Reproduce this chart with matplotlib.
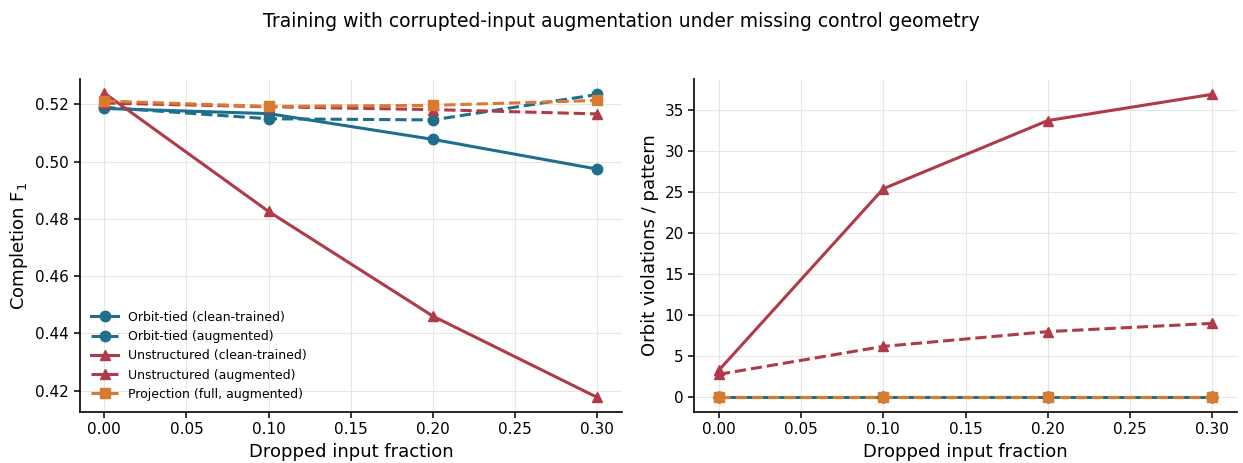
import numpy as np
import matplotlib.pyplot as plt

drop = [0.0, 0.1, 0.2, 0.3]

# completion F1
f1_orbit_clean = [0.5186, 0.5168, 0.5078, 0.4974]
f1_orbit_aug = [0.5190, 0.5150, 0.5146, 0.5235]
f1_unstr_clean = [0.5240, 0.4826, 0.4460, 0.4176]
f1_unstr_aug = [0.5205, 0.5192, 0.5182, 0.5167]
f1_proj_aug = [0.5212, 0.5193, 0.5197, 0.5214]

# orbit violations per pattern
viol_orbit_clean = [0.0, 0.0, 0.0, 0.0]
viol_orbit_aug = [0.0, 0.0, 0.0, 0.0]
viol_unstr_clean = [3.3, 25.4, 33.7, 36.9]
viol_unstr_aug = [2.8, 6.2, 8.0, 9.0]
viol_proj_aug = [0.0, 0.0, 0.0, 0.0]

c_orbit = '#1f6e8c'
c_unstr = '#b03a48'
c_proj = '#d97a2f'

series = [
    ('Orbit-tied (clean-trained)', f1_orbit_clean, viol_orbit_clean, c_orbit, 'o', '-'),
    ('Orbit-tied (augmented)', f1_orbit_aug, viol_orbit_aug, c_orbit, 'o', '--'),
    ('Unstructured (clean-trained)', f1_unstr_clean, viol_unstr_clean, c_unstr, '^', '-'),
    ('Unstructured (augmented)', f1_unstr_aug, viol_unstr_aug, c_unstr, '^', '--'),
    ('Projection (full, augmented)', f1_proj_aug, viol_proj_aug, c_proj, 's', '--'),
]

fig, (ax1, ax2) = plt.subplots(1, 2, figsize=(12.43, 4.63), dpi=100)

for name, f1, viol, col, mk, ls in series:
    ax1.plot(drop, f1, color=col, marker=mk, ls=ls, lw=2.2, ms=7.5, label=name)
    ax2.plot(drop, viol, color=col, marker=mk, ls=ls, lw=2.2, ms=7.5, label=name)

for ax in (ax1, ax2):
    ax.spines['top'].set_visible(False)
    ax.spines['right'].set_visible(False)
    for s in ('left', 'bottom'):
        ax.spines[s].set_linewidth(1.2)
    ax.grid(True, color='#e6e6e6', lw=0.8)
    ax.set_axisbelow(True)
    ax.set_xlabel('Dropped input fraction', fontsize=13)
    ax.tick_params(labelsize=11, width=1.1, length=4)
    ax.set_xticks(np.arange(0, 0.31, 0.05))
    ax.set_xticklabels([f'{t:.2f}' for t in np.arange(0, 0.31, 0.05)])

ax1.set_ylabel('Completion F$_1$', fontsize=13)
ax1.set_ylim(0.4125, 0.529)
ax1.legend(loc='lower left', frameon=False, fontsize=9, handlelength=2.2)

ax2.set_ylabel('Orbit violations / pattern', fontsize=13)
ax2.set_ylim(-1.8, 38.8)

fig.suptitle('Training with corrupted-input augmentation under missing control geometry', fontsize=13.5, y=0.975)
fig.subplots_adjust(left=0.064, right=0.995, top=0.83, bottom=0.11, wspace=0.133)
fig.savefig('out.png')
